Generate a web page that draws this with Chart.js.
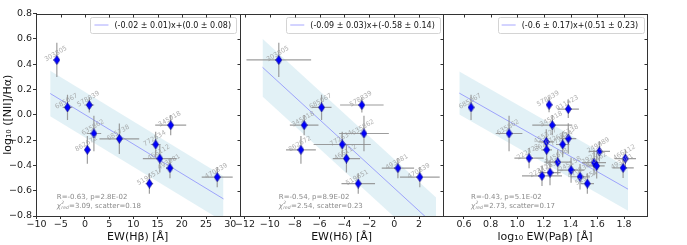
<!DOCTYPE html>
<html>
<head>
<meta charset="utf-8">
<script src="https://cdn.jsdelivr.net/npm/chart.js@4.4.1/dist/chart.umd.min.js"></script>
<style>
html, body { margin: 0; padding: 0; background: #fff; }
#wrap { position: relative; width: 687px; height: 245px; }
#wrap canvas { position: absolute; left: 0; top: 0; }
</style>
</head>
<body>
<div id="wrap">
  <canvas id="c1" width="687" height="245"></canvas>
  <canvas id="c2" width="687" height="245"></canvas>
  <canvas id="c3" width="687" height="245"></canvas>
</div>
<script>
// shared y axis
const yTicks = [-0.8, -0.6, -0.4, -0.2, 0.0, 0.2, 0.4, 0.6, 0.8];

// panel 1: EW(Hb)
const hbNames = ['303805', '685067', '578839', '635862', '862672', '685738', '345018', '772634', '466112', '493081', '519651', '470839'];
const hbX = [-5.8, -3.6, 0.9, 1.85, 0.5, 7.1, 17.7, 14.6, 15.45, 17.55, 13.3, 27.3];
const hbXerr = [0.5, 1.0, 1.0, 1.5, 0.6, 4.1, 3.2, 1.0, 3.5, 0.8, 0.8, 3.2];
const hbY = [0.433, 0.058, 0.077, -0.148, -0.277, -0.19, -0.082, -0.235, -0.346, -0.422, -0.544, -0.493];
const hbYerr = [0.135, 0.10, 0.06, 0.14, 0.11, 0.12, 0.08, 0.10, 0.11, 0.08, 0.08, 0.08];
const hbTicks = [-10, -5, 0, 5, 10, 15, 20, 25, 30];
const hbFitX = [-7.17, 28.6];
const hbFitY = [0.168, -0.665];
const hbBandHi = [0.348, -0.485];
const hbBandLo = [-0.012, -0.845];

// panel 2: EW(Hd)
const hdNames = ['303805', '685067', '578839', '345018', '635862', '772634', '862672', '466112', '493081', '470839', '519651'];
const hdX = [-9.28, -5.84, -2.6, -7.24, -2.43, -4.18, -7.5, -3.84, 0.3, 2.06, -2.89];
const hdXerr = [2.6, 0.8, 1.75, 1.15, 2.0, 2.3, 1.2, 1.1, 1.3, 1.6, 1.35];
const hdY = [0.433, 0.058, 0.077, -0.082, -0.148, -0.235, -0.277, -0.346, -0.422, -0.493, -0.544];
const hdYerr = [0.135, 0.10, 0.06, 0.08, 0.14, 0.10, 0.11, 0.11, 0.08, 0.08, 0.08];
const hdTicks = [-12, -10, -8, -6, -4, -2, 0, 2];
const hdFitX = [-10.59, 3.37];
const hdFitY = [0.375, -0.883];
const hdBandHi = [0.6, -0.653];
const hdBandLo = [0.145, -1.11];

// panel 3: log EW(Pab)
const pbNames = ['685067', '635862', '578839', '911423', '345018', '455327', '862672', '772634', '685738', '222723', '345698',
                 '249989', '392211', '350462', '466112', '493081', '245158', '223725', '412631', '470839', '519651'];
const pbX = [0.653, 0.938, 1.238, 1.382, 1.262, 1.217, 1.22, 1.34, 1.382, 1.088, 1.303,
             1.615, 1.575, 1.595, 1.81, 1.793, 1.403, 1.185, 1.245, 1.47, 1.525];
const pbXerr = [0.02, 0.1, 0.02, 0.08, 0.15, 0.06, 0.04, 0.05, 0.06, 0.11, 0.1,
                0.08, 0.09, 0.06, 0.08, 0.08, 0.1, 0.15, 0.08, 0.07, 0.05];
const pbY = [0.058, -0.148, 0.079, 0.045, -0.082, -0.214, -0.277, -0.235, -0.188, -0.343, -0.375,
             -0.29, -0.378, -0.404, -0.346, -0.42, -0.438, -0.483, -0.457, -0.49, -0.544];
const pbYerr = [0.1, 0.14, 0.06, 0.07, 0.08, 0.1, 0.11, 0.1, 0.12, 0.08, 0.1,
                0.08, 0.1, 0.1, 0.07, 0.08, 0.1, 0.08, 0.1, 0.1, 0.08];
const pbTicks = [0.6, 0.8, 1.0, 1.2, 1.4, 1.6, 1.8];
const pbFitX = [0.565, 1.83];
const pbFitY = [0.171, -0.588];
const pbBandHi = [0.341, -0.418];
const pbBandLo = [0.001, -0.758];

const panels = {
    c1: { names: hbNames, x: hbX, xerr: hbXerr, y: hbY, yerr: hbYerr,
          legend: '(-0.02 \u00b1 0.01)x+(0.0 \u00b1 0.08)', r: 'R=-0.63, p=2.8E-02', chi: '3.09', scat: '0.18' },
    c2: { names: hdNames, x: hdX, xerr: hdXerr, y: hdY, yerr: hdYerr,
          legend: '(-0.09 \u00b1 0.03)x+(-0.58 \u00b1 0.14)', r: 'R=-0.54, p=8.9E-02', chi: '2.54', scat: '0.23' },
    c3: { names: pbNames, x: pbX, xerr: pbXerr, y: pbY, yerr: pbYerr,
          legend: '(-0.6 \u00b1 0.17)x+(0.51 \u00b1 0.23)', r: 'R=-0.43, p=5.1E-02', chi: '2.73', scat: '0.17' }
};

const FONT = "'DejaVu Sans', sans-serif";
const fitColor = 'rgba(110,110,255,0.6)';
const bandColor = 'rgba(173,216,230,0.35)';
const errColor = 'rgba(140,140,140,0.85)';
const axisColor = '#333';

Chart.defaults.font.family = FONT;

// thin diamond marker
const diamond = document.createElement('canvas');
diamond.width = 7; diamond.height = 10;
(function () {
    const g = diamond.getContext('2d');
    g.beginPath();
    g.moveTo(3.5, 0.5); g.lineTo(6.5, 5); g.lineTo(3.5, 9.5); g.lineTo(0.5, 5); g.closePath();
    g.fillStyle = '#0000ff'; g.fill();
    g.strokeStyle = '#00007a'; g.lineWidth = 0.6; g.stroke();
})();

function minus(s) { return String(s).replace('-', '\u2212'); }

const deco = {
    id: 'deco',
    beforeDatasetDraw(chart, args) {
        if (args.index !== 0) return;
        const p = panels[chart.canvas.id];
        const ctx = chart.ctx, xs = chart.scales.x, ys = chart.scales.y, a = chart.chartArea;
        ctx.save();
        ctx.beginPath(); ctx.rect(a.left, a.top, a.right - a.left, a.bottom - a.top); ctx.clip();
        ctx.strokeStyle = errColor; ctx.lineWidth = 1.2;
        p.x.forEach((v, i) => {
            const px = xs.getPixelForValue(v), py = ys.getPixelForValue(p.y[i]);
            ctx.beginPath();
            ctx.moveTo(xs.getPixelForValue(v - p.xerr[i]), py);
            ctx.lineTo(xs.getPixelForValue(v + p.xerr[i]), py);
            ctx.moveTo(px, ys.getPixelForValue(p.y[i] - p.yerr[i]));
            ctx.lineTo(px, ys.getPixelForValue(p.y[i] + p.yerr[i]));
            ctx.stroke();
        });
        ctx.restore();
    },
    afterDatasetsDraw(chart) {
        const p = panels[chart.canvas.id];
        const ctx = chart.ctx, xs = chart.scales.x, ys = chart.scales.y, a = chart.chartArea;
        ctx.save();
        // object ids
        ctx.font = '6.5px ' + FONT;
        ctx.fillStyle = 'rgba(150,150,150,0.75)';
        ctx.textAlign = 'center'; ctx.textBaseline = 'middle';
        p.names.forEach((n, i) => {
            ctx.save();
            ctx.translate(xs.getPixelForValue(p.x[i]) - 1, ys.getPixelForValue(p.y[i]) - 6);
            ctx.rotate(-Math.PI / 6);
            ctx.fillText(n, 0, 0);
            ctx.restore();
        });
        // stats text
        const sx = xs.getPixelForValue(Math.min(...p.x));
        ctx.fillStyle = '#8a8a8a';
        ctx.textAlign = 'left';
        ctx.font = '7px ' + FONT;
        ctx.fillText(p.r, sx, ys.getPixelForValue(-0.65));
        const y2 = ys.getPixelForValue(-0.722);
        ctx.font = 'italic 7px ' + FONT;
        ctx.fillText('\u03c7', sx, y2);
        let cx = sx + ctx.measureText('\u03c7').width + 0.3;
        ctx.font = 'italic 4.5px ' + FONT;
        ctx.fillText('2', cx, y2 - 3);
        ctx.fillText('red', cx, y2 + 2);
        cx += ctx.measureText('red').width + 0.3;
        ctx.font = '7px ' + FONT;
        ctx.fillText('=' + p.chi + ', scatter=' + p.scat, cx, y2);
        // legend box
        ctx.font = '8px ' + FONT;
        const tw = ctx.measureText(p.legend).width;
        const bw = tw + 29, bh = 16;
        const bx = a.right - 3.5 - bw, by = a.top + 3;
        ctx.beginPath();
        ctx.roundRect(Math.round(bx) + 0.5, Math.round(by) + 0.5, Math.round(bw), bh, 2);
        ctx.fillStyle = 'rgba(255,255,255,0.85)'; ctx.fill();
        ctx.strokeStyle = '#d4d4d4'; ctx.lineWidth = 1; ctx.stroke();
        ctx.beginPath();
        ctx.moveTo(bx + 4, by + bh / 2 + 0.5); ctx.lineTo(bx + 18, by + bh / 2 + 0.5);
        ctx.strokeStyle = fitColor; ctx.stroke();
        ctx.fillStyle = '#111'; ctx.textBaseline = 'middle';
        ctx.fillText(p.legend, bx + 24, by + bh / 2 + 1);
        ctx.restore();
    },
    afterDraw(chart) {
        const ctx = chart.ctx, xs = chart.scales.x, ys = chart.scales.y, a = chart.chartArea;
        const l = Math.round(a.left) + 0.5, r = Math.round(a.right) + 0.5;
        const t = Math.round(a.top) + 0.5, b = Math.round(a.bottom) + 0.5;
        ctx.save();
        ctx.strokeStyle = axisColor; ctx.lineWidth = 1;
        ctx.strokeRect(l, t, r - l, b - t);
        ctx.beginPath();
        xs.ticks.forEach(tk => {
            const px = Math.round(xs.getPixelForValue(tk.value)) + 0.5;
            ctx.moveTo(px, t); ctx.lineTo(px, t + 3);
        });
        ys.ticks.forEach(tk => {
            const py = Math.round(ys.getPixelForValue(tk.value)) + 0.5;
            ctx.moveTo(r, py); ctx.lineTo(r - 3, py);
        });
        ctx.stroke();
        ctx.restore();
    }
};

function pts(xs, ys) { return xs.map((v, i) => ({ x: v, y: ys[i] })); }

function makePanel(id, o) {
    const yAxis = {
        type: 'linear', min: -0.8, max: 0.8, display: o.showY,
        afterBuildTicks: s => { s.ticks = yTicks.map(v => ({ value: v })); },
        afterFit: s => { s.width = o.showY ? 36 : 0; },
        grid: { drawOnChartArea: false, tickLength: 3, color: axisColor },
        border: { color: axisColor },
        ticks: { font: { size: 9.5 }, color: '#222', padding: 1, callback: v => minus(v.toFixed(1)) },
        title: { display: true, text: 'log\u2081\u2080 ([NII]/H\u03b1)', font: { size: 11 }, color: '#111', padding: { top: 2, bottom: 0 } }
    };
    new Chart(document.getElementById(id), {
        type: 'scatter',
        data: {
            datasets: [
                { data: pts(o.x, o.y), pointStyle: diamond, pointRadius: 4, pointHoverRadius: 4 },
                { data: pts(o.fitX, o.fitY), showLine: true, borderColor: fitColor, borderWidth: 1, pointRadius: 0 },
                { data: pts(o.fitX, o.bandHi), showLine: true, borderWidth: 0, borderColor: 'rgba(0,0,0,0)', pointRadius: 0, fill: false },
                { data: pts(o.fitX, o.bandLo), showLine: true, borderWidth: 0, borderColor: 'rgba(0,0,0,0)', pointRadius: 0, fill: '-1', backgroundColor: bandColor }
            ]
        },
        options: {
            responsive: false,
            animation: false,
            events: [],
            layout: { padding: { left: o.left, right: 687 - o.right, top: 13.5, bottom: 0 } },
            plugins: { legend: { display: false }, tooltip: { enabled: false } },
            scales: {
                x: {
                    type: 'linear', min: o.min, max: o.max,
                    afterBuildTicks: s => { s.ticks = o.ticks.map(v => ({ value: v })); },
                    afterFit: s => { s.height = 29; },
                    grid: { drawOnChartArea: false, tickLength: 3, color: axisColor },
                    border: { color: axisColor },
                    ticks: { font: { size: 9.5 }, color: '#222', padding: 0, maxRotation: 0, autoSkip: false, callback: o.fmt },
                    title: { display: true, text: o.title, font: { size: 11 }, color: '#111', padding: { top: 0, bottom: 1 } }
                },
                y: yAxis
            }
        },
        plugins: [deco]
    });
}

makePanel('c1', { x: hbX, y: hbY, fitX: hbFitX, fitY: hbFitY, bandHi: hbBandHi, bandLo: hbBandLo,
    min: -10.1, max: 31.9, ticks: hbTicks, fmt: v => minus(v), title: 'EW(H\u03b2) [\u00c5]', showY: true, left: 0, right: 239.5 });
makePanel('c2', { x: hdX, y: hdY, fitX: hdFitX, fitY: hdFitY, bandHi: hdBandHi, bandLo: hdBandLo,
    min: -12.4, max: 3.95, ticks: hdTicks, fmt: v => minus(v), title: 'EW(H\u03b4) [\u00c5]', showY: false, left: 240, right: 443.3 });
makePanel('c3', { x: pbX, y: pbY, fitX: pbFitX, fitY: pbFitY, bandHi: pbBandHi, bandLo: pbBandLo,
    min: 0.445, max: 1.97, ticks: pbTicks, fmt: v => v.toFixed(1), title: 'log\u2081\u2080 EW(Pa\u03b2) [\u00c5]', showY: false, left: 443.3, right: 646.7 });
</script>
</body>
</html>
